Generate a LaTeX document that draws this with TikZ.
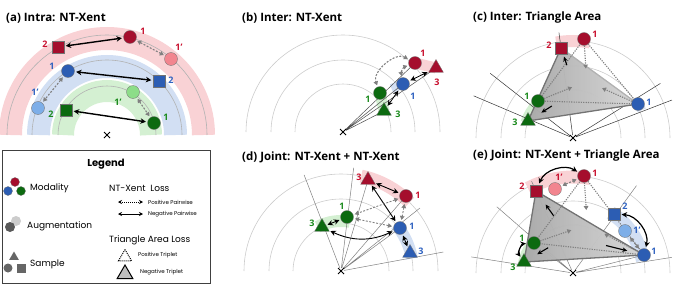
\documentclass[tikz,border=0pt]{standalone}
\usepackage{fontspec}
\setmainfont{Open Sans}
\newfontfamily\legfont{Poppins}
\usepackage{xcolor}
\usetikzlibrary{arrows.meta, shapes.geometric, shapes.misc, calc}

\definecolor{mred}{HTML}{A50E2D}
\definecolor{mpink}{HTML}{F2858F}
\definecolor{mblue}{HTML}{2C5DB3}
\definecolor{mlblue}{HTML}{7DAEE8}
\definecolor{mgreen}{HTML}{0C6A10}
\definecolor{mlgreen}{HTML}{8CDD88}
\definecolor{tred}{HTML}{C8102E}
\definecolor{tblue}{HTML}{2F62C0}
\definecolor{tgreen}{HTML}{1A8A1C}
\definecolor{bandr}{HTML}{F9D2D5}
\definecolor{bandb}{HTML}{D2DFF3}
\definecolor{bandg}{HTML}{D4F0D2}

\pgfdeclarelayer{bg}
\pgfsetlayers{bg,main}

\tikzset{
  ttl/.style={anchor=west, inner sep=0pt, font=\fontsize{11.5}{13}\selectfont\bfseries},
  num/.style={inner sep=0pt, text=#1, font=\fontsize{9}{10}\selectfont\bfseries},
  pcirc/.style={circle, fill=#1, draw=black!55, line width=0.3pt, minimum size=13pt, inner sep=0pt},
  psq/.style={rectangle, fill=#1, draw=black!55, line width=0.3pt, minimum size=12pt, inner sep=0pt},
  ptri/.style={regular polygon, regular polygon sides=3, fill=#1, draw=black!55, line width=0.3pt, minimum size=17pt, inner sep=0pt},
  xmark/.style={cross out, draw=black, line width=1pt, minimum size=5pt, inner sep=0pt},
  ringline/.style={draw=black!20, line width=0.6pt},
  rayline/.style={draw=black!50, line width=0.5pt},
  negarr/.style={{Stealth[length=5.5pt,width=5.5pt]}-{Stealth[length=5.5pt,width=5.5pt]}, line width=1.2pt, shorten <=1.5pt, shorten >=1.5pt},
  posarr/.style={{Triangle[length=4pt,width=4.5pt]}-{Triangle[length=4pt,width=4.5pt]}, draw=black!50, line width=1.1pt, dash pattern=on 2pt off 1.5pt, shorten <=1.5pt, shorten >=1.5pt},
  toarr/.style={-{Triangle[length=4pt,width=4.5pt]}, draw=black!50, line width=1.1pt, dash pattern=on 1.2pt off 1.2pt},
  posedge/.style={draw=black!50, line width=1.1pt, dash pattern=on 1.2pt off 1.2pt},
  negedge/.style={draw=black!55, line width=1.3pt},
  pullarr/.style={-{Stealth[length=5pt,width=4.5pt]}, line width=1.1pt},
  negtri/.style={left color=black!24, right color=black!3, fill opacity=0.85},
  legtxt/.style={anchor=west, inner sep=0pt, font=\legfont\fontsize{9}{10}\selectfont},
  legsmall/.style={anchor=west, inner sep=0pt, font=\legfont\fontsize{5.5}{6}\selectfont},
}

\begin{document}
\begin{tikzpicture}[x=1pt, y=-1pt]
\useasboundingbox (0,0) rectangle (674,289);

% (a) intra
\node[ttl] at (6,18) {(a) Intra: NT-Xent};
\node[xmark] (oa) at (107,135) {};
\node[pcirc=mred] (ar1) at (130,37) {};
\node[psq=mred] (ar2) at (58,47) {};
\node[pcirc=mpink] (ar1p) at (171,59) {};
\node[pcirc=mblue] (ab1) at (68,71) {};
\node[psq=mblue] (ab2) at (159,81) {};
\node[pcirc=mlblue] (ab1p) at (38,108) {};
\node[pcirc=mlgreen] (ag1p) at (133,92) {};
\node[pcirc=mgreen] (ag1) at (154,123) {};
\node[psq=mgreen] (ag2) at (66,110) {};
\node[num=tred] at (45,44) {2};
\node[num=tred] at (143,31) {1};
\node[num=tred] at (179,47) {1'};
\node[num=tblue] at (52,66) {1};
\node[num=tblue] at (171,80) {2};
\node[num=tblue] at (35,92) {1'};
\node[num=tgreen] at (118,102) {1'};
\node[num=tgreen] at (51,114) {2};
\node[num=tgreen] at (166,117) {1};
\draw[negarr, line width=1.4pt] (ar2) -- (ar1);
\draw[posarr] (ar1) -- (ar1p);
\draw[negarr, line width=1.4pt] (ab1) -- (ab2);
\draw[posarr] (ab1) -- (ab1p);
\draw[negarr, line width=1.4pt] (ag2) -- (ag1);
\draw[posarr] (ag1p) -- (ag1);
\begin{pgfonlayer}{bg}
  \draw[draw=bandr, line width=23pt] (oa) ++(0:96.5) arc[start angle=0, end angle=-180, radius=96.5];
  \draw[draw=bandb, line width=23pt] (oa) ++(0:68.5) arc[start angle=0, end angle=-180, radius=68.5];
  \draw[draw=bandg, line width=22pt] (oa) ++(0:44) arc[start angle=0, end angle=-180, radius=44];
  \foreach \r in {49,75,100}
    \draw[draw=black!30, line width=0.6pt] (oa) ++(0:\r) arc[start angle=0, end angle=-180, radius=\r];
\end{pgfonlayer}

% (b) inter
\node[ttl] at (242,18) {(b) Inter: NT-Xent};
\node[xmark] (ob) at (343,132) {};
\node[pcirc=mred] (br1) at (415,63) {};
\node[ptri=mred] (br3) at (436,68) {};
\node[pcirc=mblue] (bb1) at (403,84) {};
\node[pcirc=mgreen] (bg1) at (380,93) {};
\node[ptri=mgreen] (bg3) at (384,111) {};
\node[num=tred] at (423,53) {1};
\node[num=tred] at (437,82) {3};
\node[num=tblue] at (413,96) {1};
\node[num=tgreen] at (368,99) {1};
\node[num=tgreen] at (398,114) {3};
\draw[posarr] (br1) to[bend right=70] (bg1);
\draw[posarr] (br1) to[bend right=40] (bb1);
\draw[negarr, line width=0.8pt] (br3) -- (bb1);
\draw[negarr, line width=0.8pt] (bb1) -- (bg3);
\begin{pgfonlayer}{bg}
  \foreach \r in {48,72,97}
    \draw[ringline] (ob) ++(0:\r) arc[start angle=0, end angle=-180, radius=\r];
  \draw[draw=bandr, line width=11pt] (br1.center) -- (br3.center);
  \draw[draw=bandg, line width=11pt] (bg1.center) -- (bg3.center);
  \draw[draw=bandb, line width=9pt] (bb1.center) -- ($(bb1)!0.5!(bg1)$);
  \draw[rayline, draw=black!70] (ob) -- (br1.center) (ob) -- (br3.center) (ob) -- (bb1.center) (ob) -- (bg3.center);
\end{pgfonlayer}

% (c) inter, triangle area
\node[ttl] at (473,18) {(c) Inter: Triangle Area};
\node[xmark] (oc) at (573,138) {};
\node[psq=mred] (cr2) at (561,48) {};
\node[pcirc=mred] (cr1) at (584,39) {};
\node[pcirc=mgreen] (cg1) at (538,101) {};
\node[ptri=mgreen] (cg3) at (528,121) {};
\node[pcirc=mblue] (cb1) at (638,104) {};
\node[num=tred] at (549,45) {2};
\node[num=tred] at (595,34) {1};
\node[num=tgreen] at (527,96) {1};
\node[num=tgreen] at (515,122) {3};
\node[num=tblue] at (649,102) {1};
\coordinate (cmp) at (barycentric cs:cr1=1,cg1=1,cb1=1);
\coordinate (cmn) at (barycentric cs:cr2=1,cg3=1,cb1=1);
\draw[toarr] (cr1) -- ($(cr1)!0.7!(cmp)$);
\draw[toarr] (cg1) -- ($(cg1)!0.7!(cmp)$);
\draw[toarr] (cb1) -- ($(cb1)!0.7!(cmp)$);
\draw[pullarr] ($(cmn)!0.6!(cr2)$) -- ($(cmn)!0.8!(cr2)$);
\draw[pullarr] ($(cmn)!0.5!(cg3)$) -- ($(cmn)!0.72!(cg3)$);
\begin{pgfonlayer}{bg}
  \foreach \r in {48,72,97}
    \draw[ringline] (oc) ++(0:\r) arc[start angle=0, end angle=-180, radius=\r];
  \draw[draw=bandr, line width=12pt] (oc) ++(-80:97) arc[start angle=-80, end angle=-100, radius=97];
  \draw[draw=bandg, line width=10pt] (oc) ++(-135:50) arc[start angle=-135, end angle=-162, radius=50];
  \draw[draw=bandb, line width=9pt] (oc) ++(-22:74) arc[start angle=-22, end angle=-32, radius=74];
  \draw[rayline, draw=black!80] (oc) -- ++(-142:105) (oc) -- ++(-157:108) (oc) -- ($(oc)!1.17!(cr2)$)
    (oc) -- ++(-32:103) (oc) -- ++(-21:106);
  \fill[negtri] (cr2.center) -- (cg3.center) -- (cb1.center) -- cycle;
  \draw[negedge, draw=black!30] (cb1.center) -- (cr2.center);
  \draw[negedge] (cr2.center) -- (cg3.center) -- (cb1.center);
  \draw[posedge] (cr1.center) -- (cg1.center) -- (cb1.center) -- cycle;
\end{pgfonlayer}

% legend
\node[draw=black!75, line width=0.8pt, minimum width=208pt, minimum height=133pt, anchor=north west] (leg) at (2,150) {};
\node[font=\legfont\bfseries\fontsize{10}{12}\selectfont] at (106,164) {Legend};
\node[pcirc=mred, minimum size=9pt] (lm1) at (15,182) {};
\node[pcirc=mblue, minimum size=9pt] (lm2) at (8,191) {};
\node[pcirc=mgreen, minimum size=9pt] (lm3) at (21,191) {};
\node[legtxt] at (30,188) {Modality};
\node[pcirc=black!20, draw=none, minimum size=10pt] (la1) at (16,221) {};
\node[pcirc=black!65, draw=none, minimum size=10pt] (la2) at (10,227) {};
\node[legtxt] at (27,226) {Augmentation};
\node[ptri=black!60, draw=none, minimum size=11pt] (ls1) at (14,257) {};
\node[pcirc=black!60, draw=none, minimum size=9pt] (ls2) at (8,268) {};
\node[psq=black!60, draw=none, minimum size=9pt] (ls3) at (21,268) {};
\node[legtxt] at (30,264) {Sample};
\node[legtxt] at (109,188) {NT-Xent\ \ Loss};
\coordinate (lpa) at (118,202);
\coordinate (lpb) at (143,202);
\coordinate (lna) at (118,214);
\coordinate (lnb) at (143,214);
\draw[{Stealth[length=4pt,width=4pt]}-{Stealth[length=4pt,width=4pt]}, line width=0.9pt, dash pattern=on 1pt off 1pt] (lpa) -- (lpb);
\draw[{Stealth[length=4pt,width=4pt]}-{Stealth[length=4pt,width=4pt]}, line width=0.9pt] (lna) -- (lnb);
\node[legsmall] at (148,202) {Positive Pairwise};
\node[legsmall] at (148,214) {Negative Pairwise};
\node[legtxt] at (109,240) {Triangle Area Loss};
\node[regular polygon, regular polygon sides=3, draw, line width=1pt, dash pattern=on 1pt off 1pt, minimum size=15pt, inner sep=0pt] (lt1) at (125,257) {};
\node[regular polygon, regular polygon sides=3, draw, fill=black!25, line width=1pt, minimum size=18pt, inner sep=0pt] (lt2) at (125,274) {};
\node[legsmall] at (138,255) {Positive Triplet};
\node[legsmall] at (140,272) {Negative Triplet};

% (d) joint, pairwise
\node[ttl] at (242,157) {(d) Joint: NT-Xent + NT-Xent};
\node[xmark] (od) at (341,271) {};
\node[ptri=mred] (dr3) at (368,180) {};
\node[pcirc=mred] (dr1) at (406,196) {};
\node[pcirc=mgreen] (dg1) at (347,217) {};
\node[ptri=mgreen] (dg3) at (322,227) {};
\node[pcirc=mblue] (db1) at (400,228) {};
\node[ptri=mblue] (db3) at (410,253) {};
\node[num=tred] at (359,177) {3};
\node[num=tred] at (418,195) {1};
\node[num=tgreen] at (342,206) {1};
\node[num=tgreen] at (312,223) {3};
\node[num=tblue] at (412,226) {1};
\node[num=tblue] at (421,251) {3};
\draw[negarr, line width=0.9pt] (dr3) -- (dr1);
\draw[negarr, line width=0.9pt] (dr3) -- (db1);
\draw[negarr, line width=0.9pt] (dg3) -- (dg1);
\draw[negarr, line width=0.9pt] (db1) -- (db3);
\draw[negarr, line width=0.9pt] (dg3) to[bend right=25] (db1);
\draw[posarr, line width=0.9pt] (dr1) -- (dg1);
\draw[posarr, line width=0.9pt] (db1) -- (dg1);
\draw[posarr, line width=0.9pt] (dr1) -- (db1);
\begin{pgfonlayer}{bg}
  \foreach \r in {48,72,97}
    \draw[ringline] (od) ++(0:\r) arc[start angle=0, end angle=-180, radius=\r];
  \draw[draw=bandr, line width=13pt] (od) ++(-45:97) arc[start angle=-45, end angle=-78, radius=97];
  \draw[draw=bandg, line width=12pt] (od) ++(-80:50) arc[start angle=-80, end angle=-118, radius=50];
  \draw[draw=bandb, line width=12pt] (od) ++(-10:72) arc[start angle=-10, end angle=-40, radius=72];
  \draw[rayline] (od) -- ++(-111:103) (od) -- ++(-83:104) (od) -- ($(od)!1.05!(dr3)$) (od) -- (dr1.center)
    (od) -- (db1.center) (od) -- ++(-38.6:101) (od) -- ++(-10.5:104);
\end{pgfonlayer}

% (e) joint, pairwise + triangle area
\node[ttl] at (473,156) {(e) Joint: NT-Xent + Triangle Area};
\node[xmark] (oe) at (573,273) {};
\node[pcirc=mred] (er1) at (584,176) {};
\node[psq=mred] (er2) at (536,191) {};
\node[pcirc=mpink] (er1p) at (555,189) {};
\node[psq=mblue] (eb2) at (614,214) {};
\node[pcirc=mlblue] (eb1p) at (625,231) {};
\node[pcirc=mblue] (eb1) at (644,255) {};
\node[pcirc=mgreen] (eg1) at (534,243) {};
\node[ptri=mgreen] (eg3) at (524,262) {};
\node[num=tred] at (595,173) {1};
\node[num=tred] at (522,186) {2};
\node[num=tred] at (559,177) {1'};
\node[num=tblue] at (625,206) {2};
\node[num=tblue] at (637,230) {1'};
\node[num=tblue] at (654,251) {1};
\node[num=tgreen] at (522,238) {1};
\node[num=tgreen] at (513,267) {3};
\coordinate (emp) at (barycentric cs:er1=1,eg1=1,eb1=1);
\coordinate (emn) at (barycentric cs:er2=1,eg3=1,eb1=1);
\draw[toarr] (er1) -- ($(er1)!0.7!(emp)$);
\draw[toarr] (eg1) -- ($(eg1)!0.7!(emp)$);
\draw[toarr] (eb1) -- ($(eb1)!0.7!(emp)$);
\draw[pullarr] ($(emn)!0.45!(er2)$) -- ($(emn)!0.7!(er2)$);
\draw[pullarr] ($(emn)!0.45!(eg3)$) -- ($(emn)!0.7!(eg3)$);
\draw[pullarr] ($(emn)!0.5!(eb1)$) -- ($(emn)!0.78!(eb1)$);
\draw[negarr] (er2) to[bend left=50] (er1);
\draw[negarr] (eb2) to[bend left=50] (eb1);
\draw[negarr] (eg1) to[bend right=60] (eg3);
\draw[posarr] (er1p) -- (er1);
\draw[posarr] (eb1p) -- (eb1);
\begin{pgfonlayer}{bg}
  \foreach \r in {48,72,97}
    \draw[ringline] (oe) ++(0:\r) arc[start angle=0, end angle=-180, radius=\r];
  \draw[draw=bandr, line width=13pt] (oe) ++(-80:96) arc[start angle=-80, end angle=-118, radius=96];
  \draw[draw=bandb, line width=14pt] (oe) ++(-10:71) arc[start angle=-10, end angle=-58, radius=71];
  \draw[draw=bandg, line width=12pt] (oe) ++(-145:50) arc[start angle=-145, end angle=-172, radius=50];
  \draw[rayline] (oe) -- ++(-171:103) (oe) -- ++(-139:101) (oe) -- ($(oe)!1.12!(er2)$)
    (oe) -- ++(-54:108) (oe) -- ++(-9:100) (oe) -- (eg1.center) (oe) -- (eb1.center);
  \fill[negtri] (er2.center) -- (eg3.center) -- (eb1.center) -- cycle;
  \draw[negedge] (er2.center) -- (eg3.center) -- (eb1.center) -- cycle;
  \draw[posedge] (er1.center) -- (eg1.center) -- (eb1.center) -- cycle;
\end{pgfonlayer}
\end{tikzpicture}
\end{document}
